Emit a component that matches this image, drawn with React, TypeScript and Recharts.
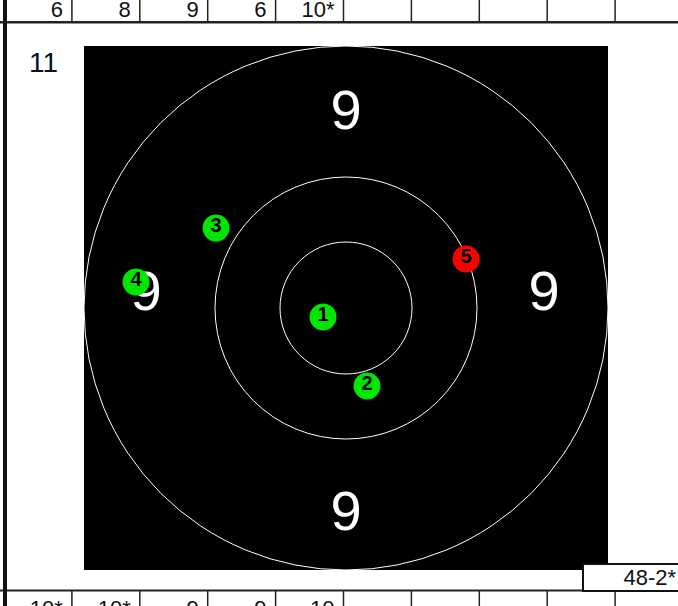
import React from 'react';
import { ScatterChart, Scatter, XAxis, YAxis, ReferenceArea } from 'recharts';

// target geometry (units: 1 unit = 1px at this size)
const HALF = 262;
const ringRadii = [66, 131, 262];

const zoneLabels = ['9', '9', '9', '9'];
const zoneX = [0, 0, -200, 198];
const zoneY = [199, -202, 18, 18];

const shotNumbers = [1, 2, 3, 4, 5];
const shotX = [-23, 21, -130, -210, 120];
const shotY = [-9, -78, 80, 26, 49];
const shotValid = [true, true, true, true, false];

const seriesNo = '11';
const topScores = ['6', '8', '9', '6', '10*', '', '', '', '', ''];
const bottomScores = ['10*', '10*', '9', '9', '10', '', '', '', '', ''];
const seriesTotal = '48-2*';

const W = 678;
const H = 606;
const margin = { top: 46, left: 84, right: 70, bottom: 36 };
const PX = (W - margin.left - margin.right) / (2 * HALF);

const rings = ringRadii.map((r) => ({ x: 0, y: 0, r }));
const zones = zoneLabels.map((t, i) => ({ x: zoneX[i], y: zoneY[i], t }));
const shots = shotNumbers.map((n, i) => ({ x: shotX[i], y: shotY[i], n, ok: shotValid[i] }));

const FONT = '"Liberation Sans", Arial, sans-serif';

const RingShape = (p: any) => (
  <circle cx={p.cx} cy={p.cy} r={p.payload.r * PX} fill="none" stroke="#fff" strokeWidth={1} />
);

const ZoneShape = (p: any) => (
  <text x={p.cx} y={p.cy + 20} textAnchor="middle" fill="#fff" fontSize={56} fontFamily={FONT}>
    {p.payload.t}
  </text>
);

const ShotShape = (p: any) => (
  <g>
    <circle cx={p.cx} cy={p.cy} r={13.5} fill={p.payload.ok ? '#00e600' : '#ff0000'} />
    <text x={p.cx} y={p.cy + 4} textAnchor="middle" fill="#000" fontSize={20} fontWeight="bold" fontFamily={FONT}>
      {p.payload.n}
    </text>
  </g>
);

const colX = (i: number) => 4 + 67.9 * i;

const Sheet = () => (
  <svg width={W} height={H} style={{ position: 'absolute', left: 0, top: 0, pointerEvents: 'none' }}>
    {/* top row */}
    {topScores.map((s, i) => (
      <g key={'t' + i}>
        <line x1={colX(i + 1)} x2={colX(i + 1)} y1={0} y2={21} stroke="#222" strokeWidth={1.5} />
        <text x={colX(i + 1) - 9} y={17} textAnchor="end" fontSize={22} fontFamily={FONT} fill="#111">
          {s}
        </text>
      </g>
    ))}
    <rect x={0} y={21} width={W} height={2.5} fill="#222" />
    {/* bottom row */}
    <rect x={0} y={589.5} width={W} height={2} fill="#222" />
    {bottomScores.map((s, i) => (
      <g key={'b' + i}>
        <line x1={colX(i + 1)} x2={colX(i + 1)} y1={591} y2={H} stroke="#222" strokeWidth={1.5} />
        <text x={colX(i + 1) - 9} y={616} textAnchor="end" fontSize={22} fontFamily={FONT} fill="#111">
          {s}
        </text>
      </g>
    ))}
    {/* left border */}
    <rect x={3} y={0} width={4} height={H} fill="#111" />
    <text x={29} y={72} fontSize={28} fontFamily={FONT} fill="#111">
      {seriesNo}
    </text>
    {/* total box */}
    <rect x={583} y={564} width={100} height={27} fill="#fff" stroke="#111" strokeWidth={2} />
    <text x={676} y={585} textAnchor="end" fontSize={22} fontFamily={FONT} fill="#111">
      {seriesTotal}
    </text>
  </svg>
);

export default function App() {
  return (
    <div style={{ position: 'absolute', left: 0, top: 0, width: W, height: H, background: '#fff', overflow: 'hidden' }}>
      <ScatterChart width={W} height={H} margin={margin}>
        <XAxis type="number" dataKey="x" domain={[-HALF, HALF]} hide allowDataOverflow />
        <YAxis type="number" dataKey="y" domain={[-HALF, HALF]} hide allowDataOverflow />
        <ReferenceArea x1={-HALF} x2={HALF} y1={-HALF} y2={HALF} fill="#000" fillOpacity={1} stroke="none" />
        <Scatter data={rings} shape={RingShape} isAnimationActive={false} />
        <Scatter data={zones} shape={ZoneShape} isAnimationActive={false} />
        <Scatter data={shots} shape={ShotShape} isAnimationActive={false} />
      </ScatterChart>
      <Sheet />
    </div>
  );
}
